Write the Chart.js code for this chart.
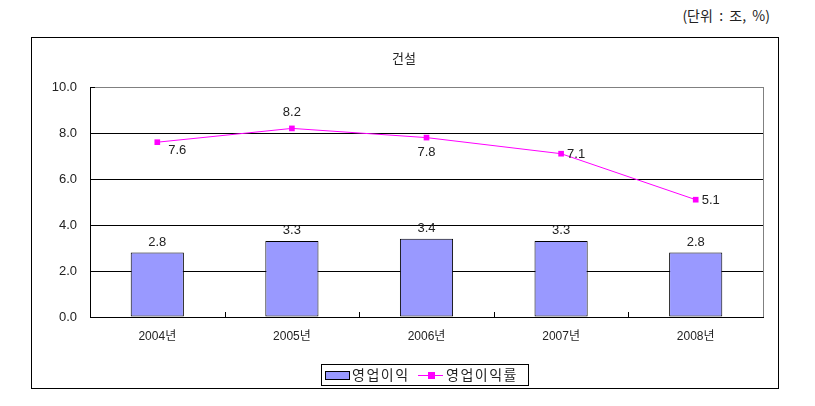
<!DOCTYPE html>
<html>
<head>
<meta charset="utf-8">
<script src="https://cdn.jsdelivr.net/npm/chart.js@4.4.0/dist/chart.umd.min.js"></script>
<style>
    body { margin: 0; background: #fff; overflow: hidden; }
    #unidad {
        position: absolute; left: 620px; top: 5px; width: 150px; text-align: right;
        font: 14px 'Noto Sans CJK KR', sans-serif; color: #222; white-space: pre;
        line-height: 20px;
    }
    #Grafico1 { position: absolute; left: 0; top: 0; }
</style>
</head>
<body>
<div id="unidad">(단위  :  조,  %)</div>
<canvas id="Grafico1" width="815" height="406"></canvas>
<script>
let anios = ['2004년', '2005년', '2006년', '2007년', '2008년'];
let ganancia = [2.8, 3.3, 3.4, 3.3, 2.8];      // 영업이익 (조)
let tasa = [7.6, 8.2, 7.8, 7.1, 5.1];          // 영업이익률 (%)
let ticksY = [0, 2, 4, 6, 8, 10];
let titulo = '건설';

let fuente = "'Liberation Sans', 'Noto Sans CJK KR', sans-serif";
Chart.defaults.font.family = fuente;
Chart.defaults.color = '#222';

// posicion de las etiquetas de la linea respecto al punto
let posTasa = ['abajoDer', 'arriba', 'abajo', 'der', 'der'];

let extras = {
    id: 'extras',
    afterDraw(chart) {
        let ctx = chart.ctx;
        let area = chart.chartArea;
        let x = chart.scales.x;
        ctx.save();
        // marco exterior
        ctx.strokeStyle = '#000';
        ctx.lineWidth = 1;
        ctx.strokeRect(31.5, 37.5, 747, 351);
        // borde derecho gris
        ctx.strokeStyle = '#808080';
        ctx.beginPath();
        ctx.moveTo(Math.round(area.right) + 0.5, area.top);
        ctx.lineTo(Math.round(area.right) + 0.5, area.bottom);
        ctx.stroke();
        // marcas internas
        ctx.strokeStyle = '#000';
        ctx.beginPath();
        for (let i = 1; i < anios.length; i++) {
            let px = Math.round((x.getPixelForTick(i - 1) + x.getPixelForTick(i)) / 2) + 0.5;
            ctx.moveTo(px, area.bottom);
            ctx.lineTo(px, area.bottom - 5);
        }
        ctx.moveTo(area.left, Math.round(area.top) + 0.5);
        ctx.lineTo(area.left + 5, Math.round(area.top) + 0.5);
        ctx.stroke();
        // titulo
        ctx.fillStyle = '#222';
        ctx.font = "13px 'Noto Sans CJK KR', sans-serif";
        ctx.textAlign = 'center';
        ctx.textBaseline = 'middle';
        ctx.fillText(titulo, 404, 58);
        // etiquetas de valores
        ctx.font = '13px ' + fuente;
        let barras = chart.getDatasetMeta(0).data;
        barras.forEach((b, i) => {
            ctx.textAlign = 'center';
            ctx.textBaseline = 'bottom';
            ctx.fillText(ganancia[i].toFixed(1), b.x, b.y - 4);
        });
        let puntos = chart.getDatasetMeta(1).data;
        puntos.forEach((p, i) => {
            let t = tasa[i].toFixed(1);
            ctx.textBaseline = 'middle';
            if (posTasa[i] == 'arriba') {
                ctx.textAlign = 'center';
                ctx.fillText(t, p.x, p.y - 16);
            } else if (posTasa[i] == 'abajo') {
                ctx.textAlign = 'center';
                ctx.fillText(t, p.x, p.y + 15);
            } else if (posTasa[i] == 'abajoDer') {
                ctx.textAlign = 'center';
                ctx.fillText(t, p.x + 20, p.y + 8);
            } else {
                ctx.textAlign = 'left';
                ctx.fillText(t, p.x + 6, p.y + 1);
            }
        });
        // leyenda
        let ds = chart.data.datasets;
        ctx.strokeStyle = '#000';
        ctx.strokeRect(321.5, 364.5, 207, 21);
        ctx.fillStyle = ds[0].backgroundColor;
        ctx.fillRect(325.5, 371.5, 24, 8);
        ctx.strokeRect(325.5, 371.5, 24, 8);
        ctx.strokeStyle = ds[1].borderColor;
        ctx.beginPath();
        ctx.moveTo(418, 375.5);
        ctx.lineTo(443, 375.5);
        ctx.stroke();
        ctx.fillStyle = ds[1].pointBackgroundColor;
        ctx.fillRect(428, 372, 7, 7);
        ctx.fillStyle = '#222';
        ctx.font = "14px 'Noto Sans CJK KR', sans-serif";
        ctx.letterSpacing = '1.5px';
        ctx.textAlign = 'left';
        ctx.textBaseline = 'middle';
        ctx.fillText(ds[0].label, 352, 375);
        ctx.fillText(ds[1].label, 446, 375);
        ctx.letterSpacing = '0px';
        ctx.restore();
    }
};

let G1 = new Chart(document.getElementById('Grafico1').getContext('2d'), {
    data: {
        labels: anios,
        datasets: [{
            type: 'bar',
            label: '영업이익',
            data: ganancia,
            backgroundColor: '#9999FF',
            borderColor: '#000',
            borderWidth: 1,
            borderSkipped: false,
            barPercentage: 0.395,
            categoryPercentage: 1,
            order: 1
        }, {
            type: 'line',
            label: '영업이익률',
            data: tasa,
            borderColor: '#FF00FF',
            borderWidth: 1,
            pointStyle: 'rect',
            pointRadius: 4,
            pointBackgroundColor: '#FF00FF',
            pointBorderColor: '#FF00FF',
            pointBorderWidth: 0,
            tension: 0,
            order: 0
        }]
    },
    plugins: [extras],
    options: {
        responsive: false,
        animation: false,
        devicePixelRatio: 1,
        layout: { padding: { left: 50, right: 52, top: 87, bottom: 59 } },
        plugins: {
            legend: { display: false },
            title: { display: false },
            tooltip: { enabled: false }
        },
        scales: {
            x: {
                grid: { display: false, drawTicks: false },
                border: { color: '#000', width: 1 },
                ticks: { padding: 12, font: { size: 12 }, color: '#222' },
                afterFit: function (s) { s.height = 30; }
            },
            y: {
                min: 0,
                max: 10,
                afterBuildTicks: function (s) { s.ticks = ticksY.map(v => ({ value: v })); },
                grid: {
                    drawTicks: false,
                    color: function (c) { return c.tick && c.tick.value == 10 ? '#808080' : '#000'; }
                },
                border: { color: '#000', width: 1 },
                ticks: {
                    padding: 13,
                    font: { size: 13 },
                    color: '#222',
                    callback: function (v) { return Number(v).toFixed(1); }
                },
                afterFit: function (s) { s.width = 40; }
            }
        }
    }
});
</script>
</body>
</html>
